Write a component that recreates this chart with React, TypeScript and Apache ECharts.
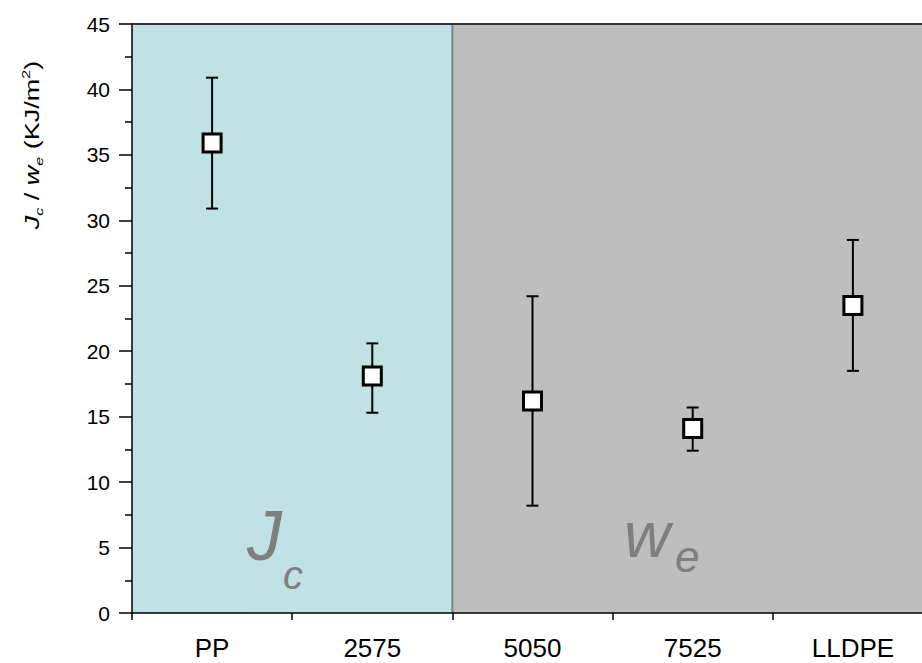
import React, { useEffect, useRef } from "react";
import * as echarts from "echarts";

const categories = ["PP", "2575", "5050", "7525", "LLDPE"];
const means = [35.9, 18.1, 16.2, 14.1, 23.5];
const upper = [40.9, 20.6, 24.2, 15.7, 28.5];
const lower = [30.9, 15.3, 8.2, 12.4, 18.5];
const bandStart = [0, 2];
const bandEnd = [1, 4];
const bandColors = ["#c1e2e4", "#bebebe"];
const yTicks = { min: 0, max: 45, interval: 5 };

const FONT = "Liberation Sans, Arial, sans-serif";

export default function App() {
  const ref = useRef<HTMLDivElement>(null);
  useEffect(() => {
    const chart = echarts.init(ref.current!, null, { renderer: "svg" });
    const bandData = bandStart.map((s, i) => [s, bandEnd[i], i]);
    const errData = categories.map((_, i) => [i, lower[i], upper[i]]);
    const gray = "#7f7f7f";
    const option: any = {
      animation: false,
      backgroundColor: "#ffffff",
      grid: { left: 132, top: 24, width: 801, bottom: 50, outerBoundsMode: "none", containLabel: false },
      xAxis: [
        {
          type: "category",
          data: categories,
          boundaryGap: true,
          position: "bottom",
          axisLine: { lineStyle: { color: "#000", width: 1.5 } },
          axisTick: { alignWithLabel: true, length: 13, lineStyle: { color: "#000", width: 1.5 } },
          axisLabel: { color: "#000", fontSize: 26, fontFamily: FONT, margin: 22 },
          splitLine: { show: false },
          z: 10,
        },
        {
          type: "category",
          data: categories,
          boundaryGap: true,
          position: "bottom",
          axisLine: { show: false },
          axisTick: { show: true, length: 7, lineStyle: { color: "#000", width: 1.5 } },
          axisLabel: { show: false },
          splitLine: { show: false },
        },
        {
          type: "category",
          data: categories,
          boundaryGap: true,
          position: "top",
          axisLine: { show: true, lineStyle: { color: "#333", width: 2 } },
          axisTick: { show: false },
          axisLabel: { show: false },
          splitLine: { show: false },
          z: 10,
        },
      ],
      yAxis: {
        type: "value",
        min: yTicks.min,
        max: yTicks.max,
        interval: yTicks.interval,
        axisLine: { show: true, lineStyle: { color: "#000", width: 1.5 } },
        axisTick: { show: true, length: 13, lineStyle: { color: "#000", width: 1.5 } },
        minorTick: { show: true, splitNumber: 2, length: 7, lineStyle: { color: "#000", width: 1.5 } },
        axisLabel: { color: "#000", fontSize: 21, fontFamily: FONT, margin: 22 },
        splitLine: { show: false },
        z: 10,
      },
      graphic: [
        {
          type: "text",
          x: 32,
          y: 145,
          rotation: Math.PI / 2,
          scaleY: 0.72,
          style: {
            text: "{i|J}{sub|c}{n| / }{i|w}{sub|e}{n| (KJ/m}{sup|2}{n|)}",
            align: "center",
            verticalAlign: "middle",
            fill: "#000",
            rich: {
              i: { fontSize: 27, fontStyle: "italic", fontFamily: FONT, fill: "#000", verticalAlign: "middle", lineHeight: 34 },
              n: { fontSize: 27, fontFamily: FONT, fill: "#000", verticalAlign: "middle", lineHeight: 34 },
              sub: { fontSize: 16, fontStyle: "italic", fontFamily: FONT, fill: "#000", verticalAlign: "bottom", lineHeight: 34 },
              sup: { fontSize: 16, fontFamily: FONT, fill: "#000", verticalAlign: "top", lineHeight: 34 },
            },
          },
          z: 100,
        },
        {
          type: "text",
          x: 247,
          y: 501,
          style: { text: "J", fontSize: 70, lineHeight: 70, fontStyle: "italic", fontFamily: FONT, fill: gray, verticalAlign: "top" },
          z: 50,
        },
        {
          type: "text",
          x: 283,
          y: 555,
          style: { text: "c", fontSize: 40, lineHeight: 40, fontStyle: "italic", fontFamily: FONT, fill: gray, verticalAlign: "top" },
          z: 50,
        },
        {
          type: "text",
          x: 624,
          y: 503,
          style: { text: "w", fontSize: 64, lineHeight: 64, fontStyle: "italic", fontFamily: FONT, fill: gray, verticalAlign: "top" },
          z: 50,
        },
        {
          type: "text",
          x: 675,
          y: 534,
          style: { text: "e", fontSize: 44, lineHeight: 44, fontStyle: "italic", fontFamily: FONT, fill: gray, verticalAlign: "top" },
          z: 50,
        },
      ],
      series: [
        {
          type: "custom",
          xAxisIndex: 0,
          z: 1,
          silent: true,
          data: bandData,
          encode: { x: [0, 1] },
          renderItem: (params: any, api: any) => {
            const s = api.value(0);
            const e = api.value(1);
            const idx = api.value(2);
            const p0 = api.coord([s, yTicks.max]);
            const p1 = api.coord([e, yTicks.min]);
            const bw = api.size([1, 0])[0];
            const x0 = p0[0] - bw / 2;
            const x1 = p1[0] + bw / 2;
            const children: any[] = [
              {
                type: "rect",
                shape: { x: x0, y: p0[1], width: x1 - x0, height: p1[1] - p0[1] },
                style: { fill: bandColors[idx] },
              },
            ];
            if (idx > 0) {
              children.push({
                type: "line",
                shape: { x1: x0, y1: p0[1], x2: x0, y2: p1[1] },
                style: { stroke: "#808080", lineWidth: 2 },
              });
            }
            return { type: "group", children };
          },
        },
        {
          type: "custom",
          xAxisIndex: 0,
          z: 5,
          silent: true,
          data: errData,
          encode: { x: 0, y: [1, 2] },
          renderItem: (params: any, api: any) => {
            const x = api.value(0);
            const lo = api.coord([x, api.value(1)]);
            const hi = api.coord([x, api.value(2)]);
            const cap = 6;
            const st = { stroke: "#000", lineWidth: 2 };
            return {
              type: "group",
              children: [
                { type: "line", shape: { x1: lo[0], y1: lo[1], x2: hi[0], y2: hi[1] }, style: st },
                { type: "line", shape: { x1: lo[0] - cap, y1: lo[1], x2: lo[0] + cap, y2: lo[1] }, style: st },
                { type: "line", shape: { x1: hi[0] - cap, y1: hi[1], x2: hi[0] + cap, y2: hi[1] }, style: st },
              ],
            };
          },
        },
        {
          type: "scatter",
          xAxisIndex: 0,
          z: 6,
          silent: true,
          symbol: "rect",
          symbolSize: 18,
          itemStyle: { color: "#ffffff", borderColor: "#000", borderWidth: 3, opacity: 1 },
          data: means.map((v, i) => [i, v]),
        },
      ],
    };
    chart.setOption(option);
    return () => chart.dispose();
  }, []);
  return (
    <div
      ref={ref}
      style={{ position: "fixed", left: 0, top: 0, width: 922, height: 663 }}
    />
  );
}
